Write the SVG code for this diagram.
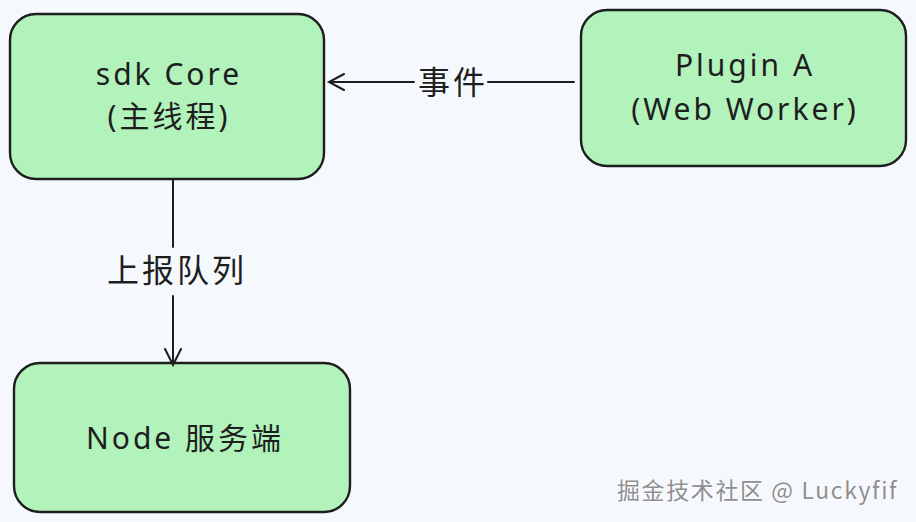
<svg xmlns="http://www.w3.org/2000/svg" width="916" height="522" viewBox="0 0 916 522">
<style>
.box{fill:#b2f2bb;stroke:#1e1e1e;stroke-width:2.4}
.t{font-family:"Noto Sans","Noto Sans CJK SC",sans-serif;font-size:30px;letter-spacing:3px;fill:#1e1e1e;text-anchor:middle;dominant-baseline:central}
.lbl{font-family:"Noto Sans CJK SC","Noto Sans",sans-serif;font-size:32px;letter-spacing:3px;fill:#1e1e1e;text-anchor:middle;dominant-baseline:central}
.ln{stroke:#1e1e1e;stroke-width:2;fill:none;stroke-linecap:round}
.wm{font-family:"Noto Sans CJK SC","Noto Sans",sans-serif;font-size:23px;letter-spacing:1.6px;fill:#8f8f8f}
</style>
<rect width="916" height="522" fill="#f5f9fd"/>
<g id="sdk-core">
<rect class="box" x="10" y="14" width="314" height="165" rx="26"/>
<text class="t" x="169" y="73">sdk Core</text>
<text class="t" x="169" y="115">(主线程)</text>
</g>
<g id="plugin-a">
<rect class="box" x="581" y="10" width="325" height="156" rx="26"/>
<text class="t" x="745" y="64">Plugin A</text>
<text class="t" x="745" y="108">(Web Worker)</text>
</g>
<g id="node-server">
<rect class="box" x="14" y="363" width="336" height="149" rx="26"/>
<text class="t" x="185" y="437">Node 服务端</text>
</g>
<g id="connectors">
<path class="ln" d="M574 82 L488 82 M414 82 L329 82 M344 74 L329 82 L344 90"/>
<text class="lbl" x="453" y="80">事件</text>
<path class="ln" d="M173 180 L173 247 M173 296 L173 365 M165 349 L173 365 L181 349"/>
<text class="lbl" x="177" y="268">上报队列</text>
</g>
<text class="wm" x="617" y="499" style="fill:#ffffff" dx="1" dy="1">掘金技术社区 @ Luckyfif</text>
<text class="wm" x="617" y="499">掘金技术社区 @ Luckyfif</text>
</svg>
